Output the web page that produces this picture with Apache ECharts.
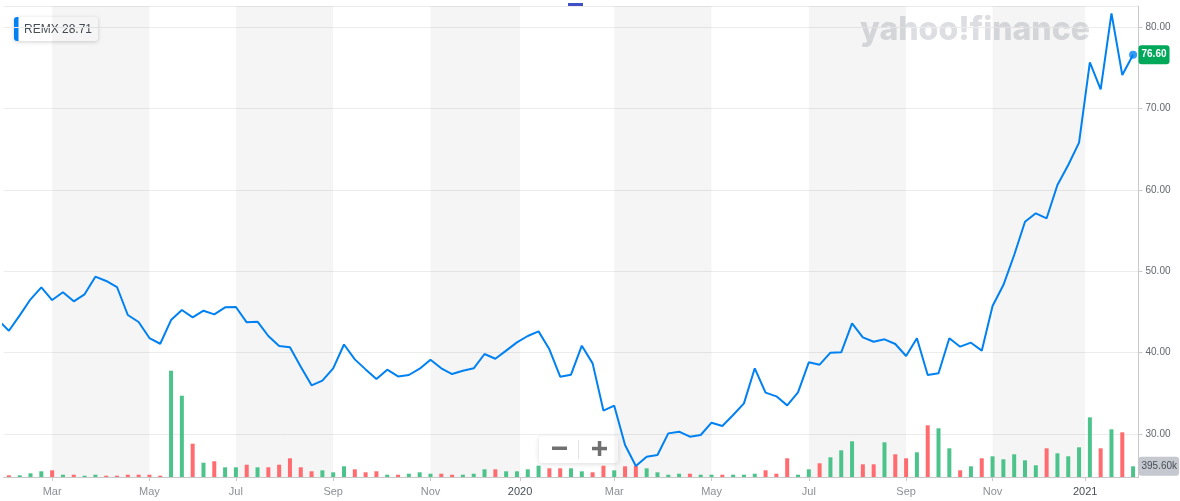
<!DOCTYPE html>
<html><head><meta charset="utf-8">
<script src="https://cdn.jsdelivr.net/npm/echarts@6/dist/echarts.min.js"></script>
<style>html,body{margin:0;padding:0;background:#fff}#c{width:1180px;height:501px}</style>
</head><body><div id="c"></div>
<script>
// ---- data ----
const symbol = 'REMX';
const legendValue = '28.71';
const firstWeek = '2019-01-28'; // weekly closes, one per week from this Monday
const closes = [
  44.00, 42.69, 44.58, 46.55, 48.02, 46.46, 47.41, 46.30, 47.16, 49.33,
  48.80, 48.06, 44.62, 43.76, 41.79, 41.09, 44.00, 45.23, 44.33, 45.15,
  44.70, 45.56, 45.60, 43.72, 43.80, 42.04, 40.81, 40.65, 38.27, 35.98,
  36.55, 38.07, 41.00, 39.17, 37.94, 36.76, 37.90, 37.08, 37.25, 38.03,
  39.13, 38.07, 37.37, 37.78, 38.07, 39.83, 39.25, 40.24, 41.26, 42.04,
  42.61, 40.40, 37.04, 37.29, 40.85, 38.68, 32.88, 33.48, 28.65, 26.07,
  27.21, 27.42, 30.08, 30.29, 29.67, 29.88, 31.39, 30.98, 32.33, 33.77,
  38.07, 35.08, 34.63, 33.52, 35.12, 38.81, 38.52, 39.99, 40.03, 43.60,
  41.87, 41.34, 41.63, 41.06, 39.58, 41.76, 37.25, 37.46, 41.76, 40.73,
  41.22, 40.24, 45.72, 48.30, 51.99, 56.08, 57.11, 56.50, 60.59, 63.05,
  65.79, 75.66, 72.34, 81.68, 74.10, 76.60
];
// weekly volume (shares), starting with the 2nd week above
const volumes = [
  63000, 63000, 137000, 211000, 248000, 85000, 85000, 48000, 85000, 48000,
  48000, 85000, 85000, 85000, 48000, 3933000, 3008000, 1232000, 529000, 581000,
  359000, 359000, 455000, 359000, 359000, 455000, 692000, 359000, 211000, 248000,
  174000, 396000, 285000, 174000, 211000, 85000, 85000, 122000, 174000, 122000,
  122000, 85000, 85000, 122000, 285000, 285000, 211000, 211000, 285000, 418000,
  322000, 322000, 322000, 211000, 174000, 418000, 248000, 396000, 418000, 322000,
  174000, 85000, 122000, 122000, 85000, 85000, 85000, 85000, 85000, 122000,
  248000, 122000, 692000, 85000, 285000, 507000, 729000, 988000, 1321000, 470000,
  470000, 1284000, 840000, 692000, 914000, 1913000, 1802000, 1062000, 248000, 396000,
  692000, 766000, 655000, 840000, 618000, 433000, 1062000, 877000, 766000, 1099000,
  2209000, 1062000, 1765000, 1654000, 395600
];
const tickDates = ['2019-03-04','2019-05-06','2019-07-01','2019-09-02','2019-11-04','2020-01-01',
                   '2020-03-02','2020-05-04','2020-07-06','2020-09-07','2020-11-02','2021-01-01'];
const tickLabels = ['Mar','May','Jul','Sep','Nov','2020','Mar','May','Jul','Sep','Nov','2021'];
const priceTicks = [30, 40, 50, 60, 70, 80];

// ---- build ----
const UP = '#4cc38a', DOWN = '#ff6b6f', BLUE = '#0081f2';
function utc(s){ const p = s.split('-').map(Number); return Date.UTC(p[0], p[1]-1, p[2]); }
const WEEK = 7 * 86400000;
const t0 = utc(firstWeek);
const weekTimes = closes.map((_, i) => t0 + i * WEEK);
const priceData = closes.map((v, i) => [weekTimes[i], v]);
const volData = volumes.map((v, i) => ({
  value: [weekTimes[i + 1], v],
  itemStyle: { color: closes[i + 1] >= closes[i] ? UP : DOWN }
}));
const tickTimes = tickDates.map(utc);
const lastI = closes.length - 1;
const xMin = weekTimes[1] - WEEK / 2;
const xMax = weekTimes[lastI] + WEEK / 2;
const bands = [];
for (let i = 0; i + 1 < tickTimes.length; i += 2) bands.push([{ xAxis: tickTimes[i] }, { xAxis: tickTimes[i + 1] }]);
const lastClose = closes[lastI], lastVol = volumes[volumes.length - 1];

const FONT = 'Liberation Sans';
const chart = echarts.init(document.getElementById('c'), null, { renderer: 'canvas' });
chart.setOption({
  animation: false,
  backgroundColor: '#fff',
  grid: { left: 3.5, right: 41.5, top: 6, bottom: 24 },
  xAxis: {
    type: 'value', min: xMin, max: xMax,
    axisLine: { lineStyle: { color: '#c9c9c9' } },
    axisTick: { customValues: tickTimes, length: 4, lineStyle: { color: '#c9c9c9' } },
    splitLine: { show: false },
    axisLabel: {
      customValues: tickTimes, margin: 9, fontFamily: FONT, fontSize: 11, color: '#8b9095',
      formatter: function (v) {
        let i = -1;
        for (let j = 0; j < tickTimes.length; j++) if (Math.abs(tickTimes[j] - v) < 1000) i = j;
        const s = i >= 0 ? tickLabels[i] : '';
        return /^\d{4}$/.test(s) ? '{y|' + s + '}' : s;
      },
      rich: { y: { color: '#464e56', fontFamily: FONT, fontSize: 11 } }
    }
  },
  yAxis: [{
    type: 'value', position: 'right', min: 24.72, max: 82.58,
    axisLine: { show: true, lineStyle: { color: '#c9c9c9' } },
    axisTick: { show: true, length: 4, lineStyle: { color: '#c9c9c9' } },
    splitLine: { lineStyle: { color: '#ececec' } },
    axisLabel: {
      showMinLabel: false, showMaxLabel: false, margin: 7,
      fontFamily: FONT, fontSize: 10, color: '#62686e',
      formatter: v => priceTicks.indexOf(v) >= 0 ? v.toFixed(2) : ''
    }
  }, {
    type: 'value', position: 'right', min: 0, max: 17430000, show: false,
    splitLine: { show: false }
  }],
  series: [{
    type: 'bar', yAxisIndex: 1, data: volData, barWidth: 4, z: 2,
    markArea: { silent: true, itemStyle: { color: 'rgba(0,0,0,0.04)' }, data: bands },
    markLine: {
      symbol: 'none', silent: true, animation: false,
      lineStyle: { color: 'rgba(0,0,0,0)', width: 0, type: 'solid' },
      label: {
        show: true, position: 'end', distance: 0, formatter: () => (lastVol / 1000).toFixed(2) + 'k',
        backgroundColor: '#c5c8cf', color: '#464e56', fontFamily: FONT, fontSize: 10,
        padding: [5, 2, 4, 3], borderRadius: 3
      },
      data: [{ yAxis: lastVol }]
    }
  }, {
    type: 'line', data: priceData, showSymbol: false, z: 3,
    lineStyle: { color: BLUE, width: 2 }, itemStyle: { color: BLUE },
    markLine: {
      symbol: 'none', silent: true, animation: false,
      lineStyle: { color: 'rgba(0,0,0,0)', width: 0, type: 'solid' },
      label: {
        show: true, position: 'end', distance: 0, formatter: () => lastClose.toFixed(2),
        backgroundColor: '#00a85a', color: '#fff', fontFamily: FONT, fontSize: 10, fontWeight: 'bold',
        padding: [5, 3, 4, 3], borderRadius: 3
      },
      data: [{ yAxis: lastClose }]
    }
  }, {
    type: 'scatter', data: [[weekTimes[lastI], lastClose]], symbolSize: 8, z: 4,
    itemStyle: { color: BLUE }
  }],
  graphic: [
    { type: 'text', z: -10, left: 860, top: 14,
      style: { text: 'yahoo!finance', fontFamily: 'Inter', fontWeight: 800, fontSize: 32, fill: '#dcdee2' } },
    { type: 'rect', shape: { x: 568, y: 3, width: 15, height: 3 }, style: { fill: '#3f4fc4' } },
    { type: 'group', children: [
      { type: 'rect', shape: { x: 14, y: 17, width: 84, height: 24, r: 3 },
        style: { fill: '#fff', shadowBlur: 4, shadowColor: 'rgba(0,0,0,0.18)', shadowOffsetY: 1 } },
      { type: 'rect', shape: { x: 14, y: 17, width: 4.5, height: 24, r: [3, 0, 0, 3] }, style: { fill: BLUE } },
      { type: 'text', x: 24, y: 29.5, style: { text: symbol, fontFamily: FONT, fontSize: 12, fill: '#464e56', verticalAlign: 'middle' } },
      { type: 'text', x: 62, y: 29.5, style: { text: legendValue, fontFamily: FONT, fontSize: 12, fill: '#464e56', verticalAlign: 'middle' } }
    ] },
    { type: 'group', children: [
      { type: 'rect', shape: { x: 539, y: 436, width: 79, height: 27, r: 3 },
        style: { fill: '#fff', shadowBlur: 5, shadowColor: 'rgba(0,0,0,0.15)', shadowOffsetY: 1 } },
      { type: 'rect', shape: { x: 578, y: 440, width: 1, height: 19 }, style: { fill: '#e3e3e3' } },
      { type: 'rect', shape: { x: 552, y: 446.5, width: 15, height: 3.5 }, style: { fill: '#707070' } },
      { type: 'rect', shape: { x: 592, y: 446.8, width: 15, height: 3.5 }, style: { fill: '#707070' } },
      { type: 'rect', shape: { x: 597.8, y: 441, width: 3.5, height: 15 }, style: { fill: '#707070' } }
    ] }
  ]
});
</script></body></html>
